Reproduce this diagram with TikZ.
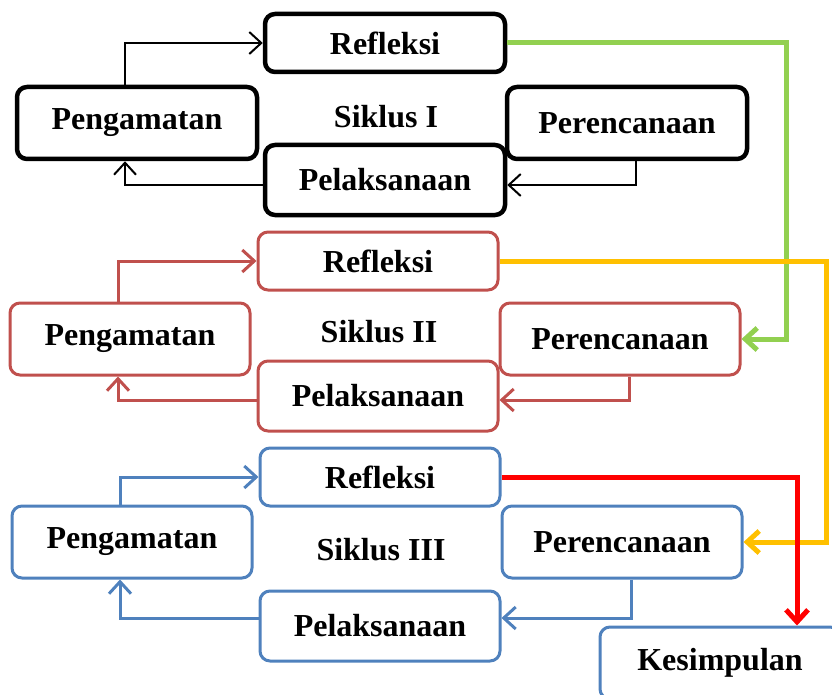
\documentclass[tikz,border=0pt]{standalone}
\usepackage{fontspec}
\setmainfont{Liberation Serif}
\usetikzlibrary{calc,arrows.meta}

\definecolor{merah}{HTML}{C0504D}
\definecolor{biru}{HTML}{4F81BD}
\definecolor{hijau}{HTML}{92D050}
\definecolor{kuning}{HTML}{FFC000}
\definecolor{merahtua}{HTML}{FF0000}

\begin{document}
\begin{tikzpicture}[x=1pt,y=-1pt,
	font=\fontsize{32}{36}\selectfont\bfseries,
	kotak/.style={draw,rounded corners=10pt,minimum width=240pt,minimum height=72pt,inner sep=0pt,fill=white},
	kotakrefl/.style={kotak,minimum height=58pt},
	panah/.style={-{Straight Barb[length=12pt,width=22pt]}},
	sambung/.style={panah,line width=5pt}]
\useasboundingbox (0,0) rectangle (832,695);

\foreach \c/\warna/\tebal/\garis/\dx/\yr/\yp/\yl/\ys/\gy in
	{I/black/4.5/2/0/43/123/180/117/5,
	 II/merah/3/3/-7/261/339/396/332/4,
	 III/biru/3/3/-5/477/542/626/550/-8}
	{
	\begin{scope}[\warna,line width=\tebal pt]
	\node[kotakrefl] (r\c) at (385+\dx,\yr) {\textcolor{black}{Refleksi}};
	\node[kotak] (p\c) at (137+\dx,\yp) {\textcolor{black}{Pengamatan}};
	\node[kotak] (e\c) at (627+\dx,\yp) {\textcolor{black}{Perencanaan}};
	\node[kotak,minimum height=70pt] (l\c) at (385+\dx,\yl) {\textcolor{black}{Pelaksanaan}};
	\node[black] (s\c) at (386+\dx,\ys) {Siklus \c};
	\end{scope}

	% putaran siklus
	\draw[\warna,line width=\garis pt,panah] (p\c.north) ++(-12,0) |- (r\c.west);
	\draw[\warna,line width=\garis pt,panah] (e\c.south) ++(9,0) |- ($(l\c.east)+(0,\gy)$);
	\draw[\warna,line width=\garis pt,panah] ($(l\c.west)+(0,\gy)$) -| ($(p\c.south)+(-12,0)$);
	}

\node[biru,kotak,line width=3pt] (k) at (720,663) {\textcolor{black}{Kesimpulan}};

% antar siklus
\draw[sambung,hijau] (rI.east) -| ($(eII.east)+(45,0)$) -- (eII.east);
\draw[sambung,kuning] (rII.east) -| ($(eIII.east)+(83,0)$) -- (eIII.east);
\draw[sambung,merahtua] (rIII.east) -| ($(k.north)+(77,0)$);
\end{tikzpicture}
\end{document}
